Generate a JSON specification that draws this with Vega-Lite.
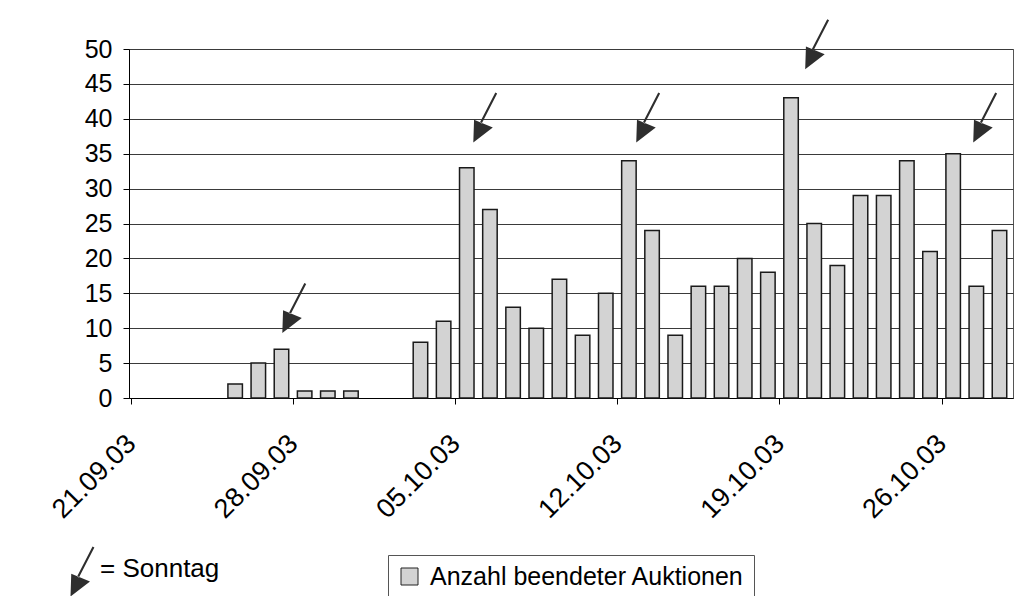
{
  "$schema": "https://vega.github.io/schema/vega-lite/v6.json",
  "width": 884,
  "height": 349,
  "autosize": {"type": "none"},
  "padding": {"left": 129, "top": 49, "right": 12, "bottom": 198},
  "background": "white",
  "config": {
    "font": "Liberation Sans",
    "view": {"stroke": "#555", "strokeWidth": 1},
    "axis": {
      "labelFont": "Liberation Sans",
      "labelColor": "#000",
      "domainColor": "#000",
      "tickColor": "#000",
      "domainWidth": 1,
      "tickWidth": 1,
      "tickSize": 6,
      "labelOverlap": false
    }
  },
  "datasets": {
    "auktionen": [
      {"datum": "2003-09-25", "anzahl": 2},
      {"datum": "2003-09-26", "anzahl": 5},
      {"datum": "2003-09-27", "anzahl": 7},
      {"datum": "2003-09-28", "anzahl": 1},
      {"datum": "2003-09-29", "anzahl": 1},
      {"datum": "2003-09-30", "anzahl": 1},
      {"datum": "2003-10-03", "anzahl": 8},
      {"datum": "2003-10-04", "anzahl": 11},
      {"datum": "2003-10-05", "anzahl": 33},
      {"datum": "2003-10-06", "anzahl": 27},
      {"datum": "2003-10-07", "anzahl": 13},
      {"datum": "2003-10-08", "anzahl": 10},
      {"datum": "2003-10-09", "anzahl": 17},
      {"datum": "2003-10-10", "anzahl": 9},
      {"datum": "2003-10-11", "anzahl": 15},
      {"datum": "2003-10-12", "anzahl": 34},
      {"datum": "2003-10-13", "anzahl": 24},
      {"datum": "2003-10-14", "anzahl": 9},
      {"datum": "2003-10-15", "anzahl": 16},
      {"datum": "2003-10-16", "anzahl": 16},
      {"datum": "2003-10-17", "anzahl": 20},
      {"datum": "2003-10-18", "anzahl": 18},
      {"datum": "2003-10-19", "anzahl": 43},
      {"datum": "2003-10-20", "anzahl": 25},
      {"datum": "2003-10-21", "anzahl": 19},
      {"datum": "2003-10-22", "anzahl": 29},
      {"datum": "2003-10-23", "anzahl": 29},
      {"datum": "2003-10-24", "anzahl": 34},
      {"datum": "2003-10-25", "anzahl": 21},
      {"datum": "2003-10-26", "anzahl": 35},
      {"datum": "2003-10-27", "anzahl": 16},
      {"datum": "2003-10-28", "anzahl": 24}
    ],
    "sonntage": [
      {"sonntag": "2003-09-28", "zeit": "2003-09-27T20:38:00Z", "hoehe": 12.1},
      {"sonntag": "2003-10-05", "zeit": "2003-10-06T02:32:00Z", "hoehe": 39.4},
      {"sonntag": "2003-10-12", "zeit": "2003-10-13T03:22:00Z", "hoehe": 39.4},
      {"sonntag": "2003-10-19", "zeit": "2003-10-20T10:26:00Z", "hoehe": 49.9},
      {"sonntag": "2003-10-26", "zeit": "2003-10-27T16:33:00Z", "hoehe": 39.4}
    ]
  },
  "layer": [
    {
      "data": {"name": "auktionen"},
      "mark": {"type": "bar", "width": 14.5, "stroke": "#1a1a1a", "strokeWidth": 1.5},
      "encoding": {
        "x": {
          "field": "datum",
          "type": "temporal",
          "timeUnit": "utcyearmonthdate",
          "bandPosition": 0.5,
          "scale": {
            "type": "utc",
            "domain": [
              {"year": 2003, "month": 9, "date": 20, "hours": 22, "utc": true},
              {"year": 2003, "month": 10, "date": 29, "hours": 2, "utc": true}
            ]
          },
          "axis": {
            "title": null,
            "grid": false,
            "values": [
              {"year": 2003, "month": 9, "date": 21, "utc": true},
              {"year": 2003, "month": 9, "date": 28, "utc": true},
              {"year": 2003, "month": 10, "date": 5, "utc": true},
              {"year": 2003, "month": 10, "date": 12, "utc": true},
              {"year": 2003, "month": 10, "date": 19, "utc": true},
              {"year": 2003, "month": 10, "date": 26, "utc": true}
            ],
            "labelExpr": "utcFormat(datum.value, '%d.%m.%y')",
            "labelAngle": -45,
            "labelAlign": "right",
            "labelBaseline": "top",
            "labelPadding": 26,
            "labelOffset": -9,
            "labelFontSize": 27
          }
        },
        "y": {
          "field": "anzahl",
          "type": "quantitative",
          "scale": {"domain": [0, 50], "nice": false},
          "axis": {
            "title": null,
            "values": [0, 5, 10, 15, 20, 25, 30, 35, 40, 45, 50],
            "grid": true,
            "gridColor": "#3a3a3a",
            "gridWidth": 1,
            "labelFontSize": 25,
            "labelPadding": 11
          }
        },
        "color": {
          "datum": "Anzahl beendeter Auktionen",
          "scale": {"range": ["#d3d3d3"]},
          "legend": {
            "orient": "none",
            "legendX": 259,
            "legendY": 506,
            "title": null,
            "strokeColor": "#555",
            "fillColor": "white",
            "padding": 9,
            "symbolType": "square",
            "symbolSize": 289,
            "symbolStrokeColor": "#222",
            "symbolStrokeWidth": 1,
            "symbolOpacity": 1,
            "labelFont": "Liberation Sans",
            "labelFontSize": 25,
            "labelColor": "#000",
            "labelOffset": 8,
            "labelLimit": 500
          }
        }
      }
    },
    {
      "data": {"name": "sonntage"},
      "mark": {"type": "point", "filled": true, "size": 900, "fill": "#2e2e2e", "strokeWidth": 0, "opacity": 1},
      "encoding": {
        "x": {
          "field": "zeit",
          "type": "temporal",
          "scale": {"type": "utc"},
          "axis": {
            "title": null,
            "grid": false,
            "values": [
              {"year": 2003, "month": 9, "date": 21, "utc": true},
              {"year": 2003, "month": 9, "date": 28, "utc": true},
              {"year": 2003, "month": 10, "date": 5, "utc": true},
              {"year": 2003, "month": 10, "date": 12, "utc": true},
              {"year": 2003, "month": 10, "date": 19, "utc": true},
              {"year": 2003, "month": 10, "date": 26, "utc": true}
            ],
            "labelExpr": "utcFormat(datum.value, '%d.%m.%y')",
            "labelAngle": -45,
            "labelAlign": "right",
            "labelBaseline": "top",
            "labelPadding": 26,
            "labelOffset": -9,
            "labelFontSize": 27
          }
        },
        "y": {
          "field": "hoehe",
          "type": "quantitative",
          "axis": {
            "title": null,
            "values": [0, 5, 10, 15, 20, 25, 30, 35, 40, 45, 50],
            "grid": true,
            "gridColor": "#3a3a3a",
            "gridWidth": 1,
            "labelFontSize": 25,
            "labelPadding": 11
          }
        },
        "shape": {
          "datum": "= Sonntag",
          "scale": {"range": ["M1.092,-1.968L0.968,-2.032L-0.062,-0.032L0.062,0.032ZM-0.45,-0.22L0.8,0.3L-0.5,1.3Z"]},
          "legend": {
            "orient": "none",
            "legendX": -66,
            "legendY": 513,
            "title": null,
            "padding": 0,
            "symbolSize": 900,
            "symbolFillColor": "#2e2e2e",
            "symbolStrokeWidth": 0,
            "symbolOpacity": 1,
            "labelFont": "Liberation Sans",
            "labelFontSize": 26,
            "labelColor": "#000",
            "labelBaseline": "alphabetic",
            "labelOffset": 7
          }
        }
      }
    }
  ]
}
